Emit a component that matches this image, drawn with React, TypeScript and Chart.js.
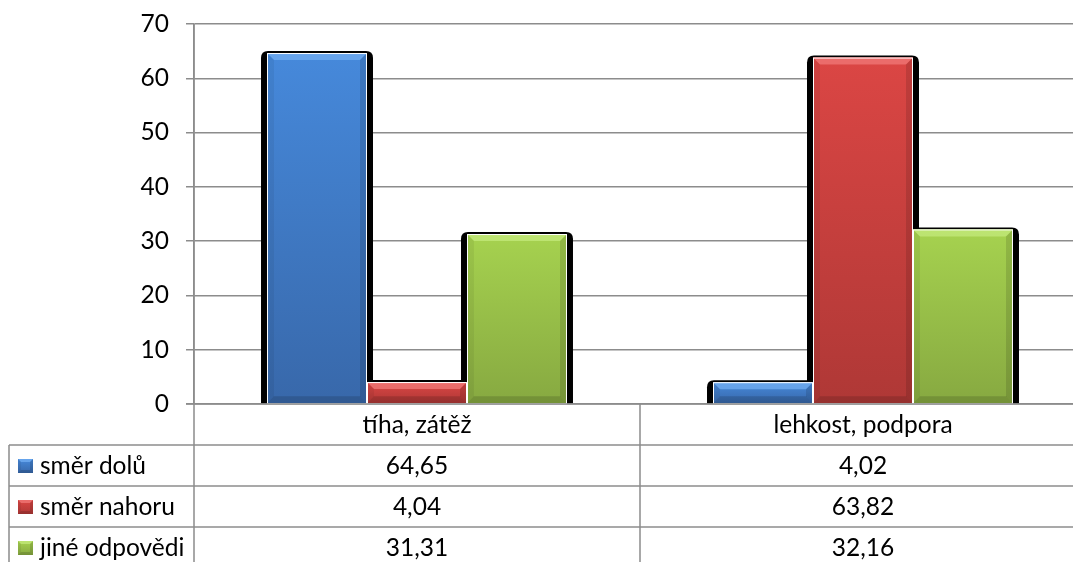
import { useEffect, useRef } from 'react';
import { Chart, registerables } from 'chart.js';

Chart.register(...registerables);

// ---- data ----
const CATEGORIES = ['tíha, zátěž', 'lehkost, podpora'];
const SERIES_NAMES = ['směr dolů', 'směr nahoru', 'jiné odpovědi'];
const SMER_DOLU = [64.65, 4.02];
const SMER_NAHORU = [4.04, 63.82];
const JINE_ODPOVEDI = [31.31, 32.16];
const SERIES_VALUES = [SMER_DOLU, SMER_NAHORU, JINE_ODPOVEDI];
const Y_MIN = 0;
const Y_MAX = 70;
const Y_STEP = 10;

// ---- style ----
const SERIES_COLORS = [
  { base: '#4282d3', light: '#4689db', dark: '#3868aa', hi: '#72aef2' },
  { base: '#d24341', light: '#db4644', dark: '#af3836', hi: '#f07a78' },
  { base: '#9cc64a', light: '#a6d24f', dark: '#87a941', hi: '#c4ea7c' },
];
const FONT = 'Lato, Carlito, "DejaVu Sans", sans-serif';
const FONT_SIZE = 24.5;
const GRID = '#8c8c8c';
const GRID_W = 1.5;
const ROW_H = 41;

const fmt = (v: number) => v.toFixed(2).replace('.', ',');

function roundTopRect(ctx: CanvasRenderingContext2D, x: number, y: number, w: number, h: number, r: number) {
  const rr = Math.min(r, w / 2, h);
  ctx.beginPath();
  ctx.moveTo(x, y + h);
  ctx.lineTo(x, y + rr);
  ctx.quadraticCurveTo(x, y, x + rr, y);
  ctx.lineTo(x + w - rr, y);
  ctx.quadraticCurveTo(x + w, y, x + w, y + rr);
  ctx.lineTo(x + w, y + h);
  ctx.closePath();
}

function bevelBox(ctx: CanvasRenderingContext2D, l: number, t: number, r: number, b: number, c: any, bev: number) {
  const h = b - t;
  const w = r - l;
  const g = ctx.createLinearGradient(0, t, 0, b);
  g.addColorStop(0, c.light);
  g.addColorStop(1, c.dark);
  ctx.fillStyle = g;
  ctx.fillRect(l, t, w, h);
  const e = Math.min(bev, h / 2, w / 2);
  // top highlight
  ctx.beginPath();
  ctx.moveTo(l, t);
  ctx.lineTo(r, t);
  ctx.lineTo(r - e, t + e);
  ctx.lineTo(l + e, t + e);
  ctx.closePath();
  ctx.fillStyle = c.hi;
  ctx.globalAlpha = 0.75;
  ctx.fill();
  ctx.globalAlpha = 1;
  // left
  ctx.beginPath();
  ctx.moveTo(l, t);
  ctx.lineTo(l + e, t + e);
  ctx.lineTo(l + e, b - e);
  ctx.lineTo(l, b);
  ctx.closePath();
  ctx.fillStyle = 'rgba(0,0,0,0.06)';
  ctx.fill();
  // right
  ctx.beginPath();
  ctx.moveTo(r, t);
  ctx.lineTo(r - e, t + e);
  ctx.lineTo(r - e, b - e);
  ctx.lineTo(r, b);
  ctx.closePath();
  ctx.fillStyle = 'rgba(0,0,0,0.12)';
  ctx.fill();
  // bottom
  ctx.beginPath();
  ctx.moveTo(l, b);
  ctx.lineTo(l + e, b - e);
  ctx.lineTo(r - e, b - e);
  ctx.lineTo(r, b);
  ctx.closePath();
  ctx.fillStyle = 'rgba(0,0,0,0.14)';
  ctx.fill();
}

const barFx = {
  id: 'barFx',
  beforeDatasetsDraw(chart: any) {
    const ctx = chart.ctx;
    ctx.save();
    ctx.fillStyle = '#000';
    chart.data.datasets.forEach((_: any, i: number) => {
      const meta = chart.getDatasetMeta(i);
      meta.data.forEach((bar: any) => {
        const { x, y, base, width } = bar.getProps(['x', 'y', 'base', 'width'], true);
        const l = x - width / 2 - 6;
        const r = x + width / 2 + 6;
        const t = y - 2;
        roundTopRect(ctx, l, t, r - l, base - t, 7);
        ctx.fill();
      });
    });
    ctx.restore();
  },
  afterDatasetsDraw(chart: any) {
    const ctx = chart.ctx;
    ctx.save();
    chart.data.datasets.forEach((_: any, i: number) => {
      const meta = chart.getDatasetMeta(i);
      const c = SERIES_COLORS[i];
      meta.data.forEach((bar: any) => {
        const { x, y, base, width } = bar.getProps(['x', 'y', 'base', 'width'], true);
        const l = x - width / 2;
        const r = x + width / 2;
        bevelBox(ctx, l, y, r, base, c, 7);
        ctx.strokeStyle = '#ffffff';
        ctx.lineWidth = 1;
        ctx.strokeRect(l + 0.5, y + 0.5, r - l - 1, base - y);
      });
    });
    ctx.restore();
  },
  afterDraw(chart: any) {
    const ctx = chart.ctx;
    const ca = chart.chartArea;
    const xs = chart.scales.x;
    const H = chart.height;
    const W = chart.width;
    const centers = CATEGORIES.map((_, i) => xs.getPixelForValue(i));
    const catW = centers.length > 1 ? centers[1] - centers[0] : ca.right - ca.left;
    const top = ca.bottom;
    ctx.save();
    ctx.strokeStyle = GRID;
    ctx.lineWidth = GRID_W;
    // zero line
    ctx.beginPath();
    ctx.moveTo(ca.left - 8, top);
    ctx.lineTo(W, top);
    ctx.stroke();
    // horizontal table lines
    for (let k = 1; k <= SERIES_NAMES.length + 1; k++) {
      const yy = top + ROW_H * k;
      ctx.beginPath();
      ctx.moveTo(9, yy);
      ctx.lineTo(W, yy);
      ctx.stroke();
    }
    // vertical lines
    ctx.beginPath();
    ctx.moveTo(ca.left, ca.top);
    ctx.lineTo(ca.left, H);
    centers.forEach((c) => {
      ctx.moveTo(c + catW / 2, top);
      ctx.lineTo(c + catW / 2, H);
    });
    ctx.moveTo(9, top + ROW_H);
    ctx.lineTo(9, H);
    ctx.stroke();

    // text
    ctx.fillStyle = '#000';
    ctx.font = `${FONT_SIZE}px ${FONT}`;
    ctx.textBaseline = 'middle';
    ctx.textAlign = 'center';
    CATEGORIES.forEach((cat, i) => {
      ctx.fillText(cat, centers[i], top + ROW_H / 2 + 1);
    });
    SERIES_NAMES.forEach((name, s) => {
      const rowMid = top + ROW_H * (s + 1) + ROW_H / 2 + 1;
      SERIES_VALUES[s].forEach((v, i) => {
        ctx.textAlign = 'center';
        ctx.fillText(fmt(v), centers[i], rowMid);
      });
      // legend key
      const kx = 18;
      const ky = rowMid - 7.5;
      bevelBox(ctx, kx, ky, kx + 15, ky + 14, SERIES_COLORS[s], 3);
      ctx.fillStyle = '#000';
      ctx.textAlign = 'left';
      ctx.fillText(name, 40, rowMid);
    });
    ctx.restore();
  },
};

export default function App() {
  const ref = useRef<HTMLCanvasElement | null>(null);
  useEffect(() => {
    if (!ref.current) return;
    const chart = new Chart(ref.current, {
      type: 'bar',
      data: {
        labels: CATEGORIES,
        datasets: SERIES_NAMES.map((name, i) => ({
          label: name,
          data: SERIES_VALUES[i],
          backgroundColor: SERIES_COLORS[i].base,
          borderWidth: 0,
          categoryPercentage: 0.6726,
          barPercentage: 1,
        })),
      },
      options: {
        responsive: false,
        animation: false,
        devicePixelRatio: 1,
        layout: { padding: { left: 0, top: 24, right: 4, bottom: 158 } },
        plugins: { legend: { display: false }, tooltip: { enabled: false } },
        scales: {
          x: { display: false },
          y: {
            min: Y_MIN,
            max: Y_MAX,
            afterFit: (scale: any) => {
              scale.width = 194;
              scale.paddingTop = 0;
              scale.paddingBottom = 0;
            },
            ticks: {
              stepSize: Y_STEP,
              color: '#000',
              padding: 17,
              font: { family: FONT, size: FONT_SIZE },
            },
            grid: { color: GRID, lineWidth: GRID_W, tickLength: 8 },
            border: { display: true, color: GRID, width: GRID_W },
          },
        },
      },
      plugins: [barFx],
    } as any);
    return () => chart.destroy();
  }, []);
  return (
    <div
      style={{
        position: 'fixed',
        left: 0,
        top: 0,
        width: 1073,
        height: 562,
        overflow: 'hidden',
        background: '#fff',
      }}
    >
      <canvas ref={ref} width={1090} height={562} style={{ display: 'block' }} />
    </div>
  );
}
